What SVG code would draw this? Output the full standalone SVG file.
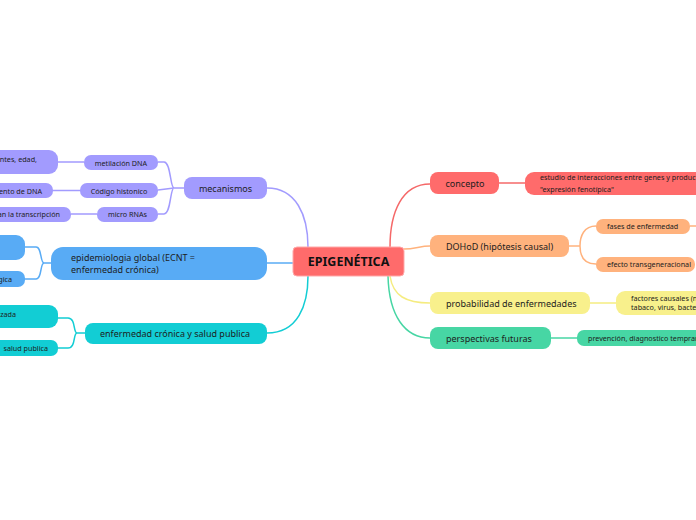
<svg xmlns="http://www.w3.org/2000/svg" width="696" height="520" viewBox="0 0 696 520">
<style>
text{font-family:"Noto Sans","Open Sans",sans-serif;fill:#1d1d1d}
.m{font-size:9px}
.s{font-size:7.2px}
.c{text-anchor:middle}
.e{text-anchor:end}
.cn{fill:none;stroke-width:1.5}
.red{fill:#FF6B6B}.ora{fill:#FFB27D}.yel{fill:#F8F08C}.grn{fill:#47D6A4}.pur{fill:#A29BFE}.blu{fill:#58ABF5}.cya{fill:#12CDD4}
</style>
<rect width="696" height="520" fill="#ffffff"/>
<g id="connectors">
<path class="cn" stroke="#A29BFE" d="M267 188 C296 188 308 215 308 247"/>
<path class="cn" stroke="#58ABF5" d="M267 263 H293"/>
<path class="cn" stroke="#12CDD4" d="M267 333 C298 333 308 305 308 276"/>
<path class="cn" stroke="#F56868" d="M430 184 C402 184 390 212 390 247"/>
<path class="cn" stroke="#FFB27D" d="M404 249 C415 249 420 246 430 246"/>
<path class="cn" stroke="#F5EC80" d="M390 276 C393 296 406 303 430 303"/>
<path class="cn" stroke="#47D6A4" d="M388 276 C389 316 405 338 430 338"/>
<path class="cn" stroke="#F56868" d="M499 183 H525"/>
<path class="cn" stroke="#FFB27D" d="M569 246 H580 M580 246 C580 236 584 226 596 226 M580 246 C580 256 584 264 596 264 M690 226 H696"/>
<path class="cn" stroke="#F5EC80" d="M590 303 H616"/>
<path class="cn" stroke="#47D6A4" d="M551 338 H577"/>
<path class="cn" stroke="#A29BFE" d="M184 188 H174 M174 188 C170 188 171 162 164 162 H158 M174 188 L158 190 M174 188 C170 188 171 214 164 214 H158 M84 162 H58 M80 190.5 H53 M97 214 H71"/>
<path class="cn" stroke="#58ABF5" d="M51 263 H44 M44 263 C40 263 42 247 36 247 H25 M44 263 C40 263 42 279 36 279 H25"/>
<path class="cn" stroke="#12CDD4" d="M85 333 H77 M77 333 C73 333 76 318 68 318 H58 M77 333 C73 333 76 348 68 348 H58"/>
</g>
<g id="n-central">
<rect x="293" y="247" width="111" height="29" rx="4" fill="#FF6B6B" stroke="#FFA9A9" stroke-width="1"/>
<text x="348.5" y="266" class="c" style="font-size:12.5px;font-weight:bold;fill:#111">EPIGENÉTICA</text>
</g>
<g id="n-concepto">
<rect x="430" y="172" width="69" height="22" rx="8" class="red"/>
<text x="465" y="186.5" class="m c">concepto</text>
</g>
<g id="n-concepto-1">
<rect x="525" y="172" width="190" height="23" rx="9" class="red"/>
<text x="540" y="180" class="s">estudio de interacciones entre genes y productos</text>
<text x="540" y="191.5" class="s">"expresión fenotípica"</text>
</g>
<g id="n-dohod">
<rect x="430" y="235" width="139" height="22" rx="8" class="ora"/>
<text x="446" y="249.5" class="m">DOHoD (hipótesis causal)</text>
</g>
<g id="n-fases">
<rect x="596" y="219" width="94" height="15" rx="7" class="ora"/>
<text x="607" y="229" class="s">fases de enfermedad</text>
</g>
<g id="n-efecto">
<rect x="596" y="257" width="99" height="15" rx="7" class="ora"/>
<text x="607" y="267" class="s">efecto transgeneracional</text>
</g>
<g id="n-probabilidad">
<rect x="430" y="292" width="160" height="22" rx="8" class="yel"/>
<text x="446" y="306.5" class="m">probabilidad de enfermedades</text>
</g>
<g id="n-factores">
<rect x="616" y="291" width="100" height="24" rx="9" class="yel"/>
<text x="631" y="300.5" class="s">factores causales (nutrientes,</text>
<text x="631" y="310" class="s">tabaco, virus, bacterias</text>
</g>
<g id="n-perspectivas">
<rect x="430" y="327" width="121" height="22" rx="8" class="grn"/>
<text x="446" y="341.5" class="m">perspectivas futuras</text>
</g>
<g id="n-prevencion">
<rect x="577" y="330" width="140" height="16" rx="7" class="grn"/>
<text x="588" y="340.5" class="s">prevención, diagnostico temprano</text>
</g>
<g id="n-mecanismos">
<rect x="184" y="177" width="83" height="22" rx="8" class="pur"/>
<text x="225.5" y="191.5" class="m c">mecanismos</text>
</g>
<g id="n-metilacion">
<rect x="84" y="155" width="74" height="15" rx="7" class="pur"/>
<text x="121" y="165.5" class="s c">metilación DNA</text>
</g>
<g id="n-codigo">
<rect x="80" y="183" width="78" height="15" rx="7" class="pur"/>
<text x="119" y="193.5" class="s c">Código histonico</text>
</g>
<g id="n-micro">
<rect x="97" y="207" width="61" height="15" rx="7" class="pur"/>
<text x="127.5" y="217" class="s c">micro RNAs</text>
</g>
<g id="n-met-1">
<rect x="-60" y="150" width="118" height="24" rx="9" class="pur"/>
<text x="37" y="161.5" class="s e">ntes, edad,</text>
</g>
<g id="n-cod-1">
<rect x="-60" y="183" width="113" height="15" rx="7" class="pur"/>
<text x="42" y="193.5" class="s e">ento de DNA</text>
</g>
<g id="n-mic-1">
<rect x="-60" y="207" width="131" height="15" rx="7" class="pur"/>
<text x="60" y="217" class="s e">an la transcripción</text>
</g>
<g id="n-epidemiologia">
<rect x="51" y="247" width="216" height="33" rx="12" class="blu"/>
<text x="71" y="261" class="m">epidemiologia global (ECNT =</text>
<text x="71" y="272.5" class="m">enfermedad crónica)</text>
</g>
<g id="n-epi-1">
<rect x="-60" y="235" width="85" height="25" rx="9" class="blu"/>
</g>
<g id="n-epi-2">
<rect x="-60" y="271" width="85" height="16" rx="7" class="blu"/>
<text x="12" y="281.5" class="s e">gica</text>
</g>
<g id="n-enfermedad">
<rect x="85" y="323" width="182" height="21" rx="8" class="cya"/>
<text x="175" y="337" class="m c">enfermedad crónica y salud publica</text>
</g>
<g id="n-enf-1">
<rect x="-60" y="305" width="118" height="23" rx="9" class="cya"/>
<text x="16" y="316.5" class="s e">zada</text>
</g>
<g id="n-enf-2">
<rect x="-60" y="340" width="118" height="16" rx="7" class="cya"/>
<text x="48" y="350.5" class="s e">salud publica</text>
</g>
</svg>
